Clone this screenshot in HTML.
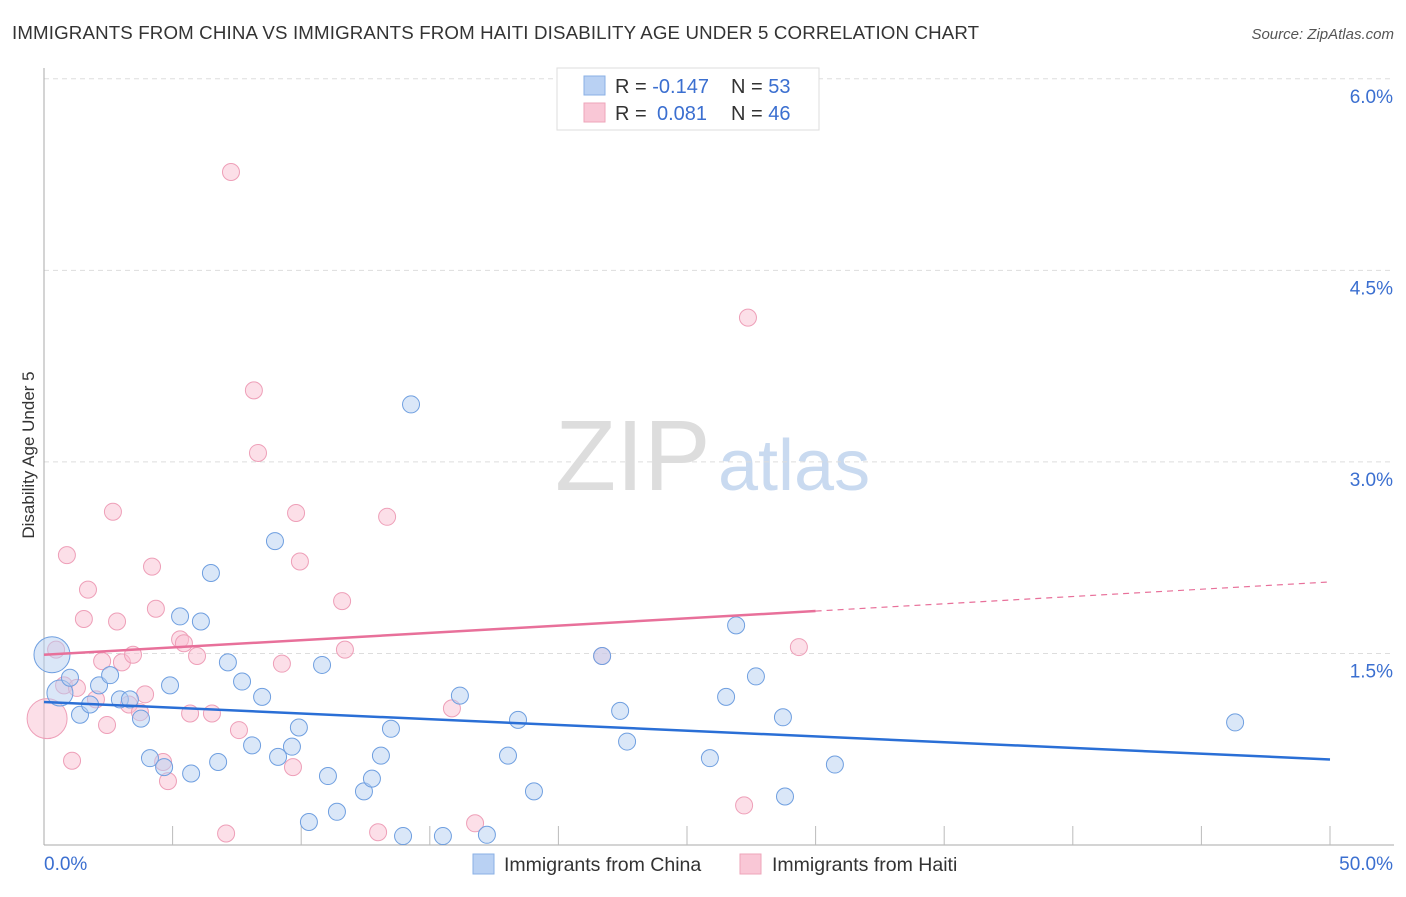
<!DOCTYPE html>
<html><head><meta charset="utf-8"><style>
body{margin:0;background:#fff;font-family:"Liberation Sans",sans-serif}
svg text{font-family:"Liberation Sans",sans-serif}
</style></head><body>
<svg id="chart" width="1406" height="892">
<text x="12" y="39" font-size="18.7" fill="#333" letter-spacing="0.15">IMMIGRANTS FROM CHINA VS IMMIGRANTS FROM HAITI DISABILITY AGE UNDER 5 CORRELATION CHART</text>
<text x="1394" y="39" font-size="15" fill="#555" text-anchor="end" font-style="italic">Source: ZipAtlas.com</text>
<g>
<text x="555" y="490" font-size="100" fill="#ddd" font-family="Liberation Serif">ZIP</text>
<text x="718" y="490" font-size="72" fill="#c9daf0">atlas</text>
</g>
<g id="grid"></g>
<g id="axes"></g>
<g id="marks"></g>
<text transform="translate(34,455) rotate(-90)" font-size="17" fill="#333" text-anchor="middle">Disability Age Under 5</text>
<g>
<rect x="557" y="68" width="262" height="62" fill="#fff" stroke="#ddd"/>
<rect x="584" y="76" width="21" height="19" fill="#b9d1f3" stroke="#8ab0e6"/>
<rect x="584" y="103" width="21" height="19" fill="#f9c7d6" stroke="#eea4ba"/>
<text x="615" y="93" font-size="20" fill="#333">R = <tspan fill="#3b6fd0">-0.147</tspan></text>
<text x="731" y="93" font-size="20" fill="#333">N = <tspan fill="#3b6fd0">53</tspan></text>
<text x="615" y="120" font-size="20" fill="#333">R = <tspan fill="#3b6fd0" x="657">0.081</tspan></text>
<text x="731" y="120" font-size="20" fill="#333">N = <tspan fill="#3b6fd0">46</tspan></text>
</g>
<g>
<rect x="473" y="854" width="21" height="20" fill="#b9d1f3" stroke="#8ab0e6"/>
<text x="504" y="871" font-size="19.5" fill="#333">Immigrants from China</text>
<rect x="740" y="854" width="21" height="20" fill="#f9c7d6" stroke="#eea4ba"/>
<text x="772" y="871" font-size="19.5" fill="#333">Immigrants from Haiti</text>
</g>
</svg>
<script>
const chinaX=[0.31,0.62,1.01,1.40,1.79,2.14,2.57,2.95,3.34,3.77,4.12,4.67,4.90,5.29,5.72,6.10,6.49,6.77,7.15,7.70,8.09,8.48,8.98,9.10,9.64,9.91,10.30,10.81,11.04,11.39,12.44,12.75,13.10,13.49,13.96,14.27,15.51,16.17,17.22,18.04,18.43,19.05,21.70,22.40,22.67,25.89,26.52,26.91,27.68,28.73,28.81,30.75,46.31];
const chinaY=[1.49,1.19,1.31,1.02,1.10,1.25,1.33,1.14,1.14,0.99,0.68,0.61,1.25,1.79,0.56,1.75,2.13,0.65,1.43,1.28,0.78,1.16,2.38,0.69,0.77,0.92,0.18,1.41,0.54,0.26,0.42,0.52,0.70,0.91,0.07,3.45,0.07,1.17,0.08,0.70,0.98,0.42,1.48,1.05,0.81,0.68,1.16,1.72,1.32,1.00,0.38,0.63,0.96];
const chinaR=[18,13];
const haitiX=[0.12,0.47,0.78,0.89,1.09,1.28,1.55,1.71,2.02,2.26,2.45,2.68,2.84,3.03,3.30,3.46,3.73,3.93,4.20,4.35,4.63,4.82,5.29,5.44,5.68,5.95,6.53,7.08,7.27,7.58,8.16,8.32,9.25,9.68,9.80,9.95,11.59,11.70,12.99,13.34,15.86,16.76,21.70,27.22,27.37,29.35];
const haitiY=[0.99,1.53,1.25,2.27,0.66,1.23,1.77,2.00,1.14,1.44,0.94,2.61,1.75,1.43,1.10,1.49,1.04,1.18,2.18,1.85,0.65,0.50,1.61,1.58,1.03,1.48,1.03,0.09,5.27,0.90,3.56,3.07,1.42,0.61,2.60,2.22,1.91,1.53,0.10,2.57,1.07,0.17,1.48,0.31,4.13,1.55];
const haitiR=[20];
const chinaTrend=[1.12,0.67];
const haitiTrend=[1.49,2.06];
const haitiSolidEnd=30;
const yTicks=[1.5,3.0,4.5,6.0];
const yTickLabels=["1.5%","3.0%","4.5%","6.0%"];
const xEnds=[0,50];
const xEndLabels=["0.0%","50.0%"];
const NS="http://www.w3.org/2000/svg";
const X=v=>44+v*25.72, Y=v=>845-v*127.7;
function mk(t,a,p){const e=document.createElementNS(NS,t);for(const k in a)e.setAttribute(k,a[k]);p.appendChild(e);return e;}
const grid=document.getElementById('grid'),axes=document.getElementById('axes'),marks=document.getElementById('marks');
yTicks.forEach((v,i)=>{
 const l=mk('line',{x1:44,x2:1394,y1:Y(v),y2:Y(v),stroke:'#ddd','stroke-dasharray':'5,4'},grid);
 
 
 const t=mk('text',{x:1393,y:Y(v)+24,'font-size':19,fill:'#3b6fd0','text-anchor':'end'},axes);
 t.textContent=yTickLabels[i];
 
 
});
const ax=mk('line',{x1:44,x2:44,y1:68,y2:845,stroke:'#aaa'},axes);


const bx=mk('line',{x1:44,x2:1394,y1:845,y2:845,stroke:'#aaa'},axes);


for(let i=1;i<=10;i++){const tk=mk('line',{x1:X(i*5),x2:X(i*5),y1:826,y2:845,stroke:'#bbb'},axes);
 
 }
xEnds.forEach((v,i)=>{const t=mk('text',{x:i?1393:44,y:870,'font-size':19,fill:'#3b6fd0','text-anchor':i?'end':'start'},axes);
 t.textContent=xEndLabels[i];
 
 });
function pts(xs,ys,rs,fill,stroke,name){xs.forEach((x,i)=>{const c=mk('circle',{cx:X(x),cy:Y(ys[i]),r:rs[i]||8.5,fill:fill,'fill-opacity':0.5,stroke:stroke,'stroke-width':1},marks);
 
 });}
pts(haitiX,haitiY,haitiR,'#f9c0d2','#ee9fb8','haiti-point');
pts(chinaX,chinaY,chinaR,'#b5cff2','#6f9fe0','china-point');
const cl=mk('line',{x1:X(0),y1:Y(chinaTrend[0]),x2:X(50),y2:Y(chinaTrend[1]),stroke:'#2a6fd6','stroke-width':2.5},marks);


const hm=haitiTrend[0]+(haitiTrend[1]-haitiTrend[0])*haitiSolidEnd/50;
const hl=mk('line',{x1:X(0),y1:Y(haitiTrend[0]),x2:X(haitiSolidEnd),y2:Y(hm),stroke:'#e8709a','stroke-width':2.5},marks);


const hd=mk('line',{x1:X(haitiSolidEnd),y1:Y(hm),x2:X(50),y2:Y(haitiTrend[1]),stroke:'#e8709a','stroke-width':1.2,'stroke-dasharray':'6,5'},marks);


</script>
</body></html>
